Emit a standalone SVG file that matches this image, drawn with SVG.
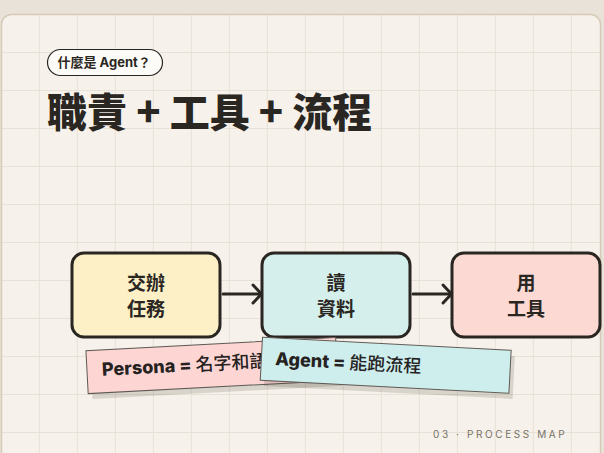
<svg xmlns="http://www.w3.org/2000/svg" width="604" height="453" viewBox="0 0 604 453">
  <defs>
    <pattern id="grid" patternUnits="userSpaceOnUse" x="0.8" y="14" width="38" height="38">
      <path d="M0.5 0 V38 M0 0.5 H38" fill="none" stroke="#e8e1d6" stroke-width="1"/>
    </pattern>
    <clipPath id="cardClip">
      <rect x="1.5" y="14.5" width="599" height="460" rx="10"/>
    </clipPath>
  </defs>
  <style>
    .node rect.box { stroke: #2a2622; stroke-width: 3; }
    .node text { font-family: "Noto Sans CJK TC", "Noto Sans CJK SC", sans-serif; font-weight: 700; font-size: 19px; fill: #2a2622; text-anchor: middle; }
    .conn { fill: none; stroke: #2a2622; stroke-width: 3; stroke-linecap: round; stroke-linejoin: round; }
    .note rect.paper { stroke: #5f5954; stroke-width: 1; }
    .note rect.shadow { fill: #3c3228; fill-opacity: 0.16; }
    .note text { font-family: Inter, "Noto Sans CJK TC", "Noto Sans CJK SC", sans-serif; font-weight: 800; font-size: 18px; fill: #26221f; }
    .note tspan.cjk { font-weight: 500; }
  </style>

  <!-- background -->
  <rect x="0" y="0" width="604" height="453" fill="#e8e2d9"/>
  <g id="card">
    <rect x="1.5" y="14.5" width="599" height="460" rx="10" fill="#f6f2eb"/>
    <rect x="1.5" y="14.5" width="599" height="460" fill="url(#grid)" clip-path="url(#cardClip)"/>
    <rect x="1.5" y="14.5" width="599" height="460" rx="10" fill="none" stroke="#d6cab7" stroke-width="1.5"/>
  </g>

  <!-- tag pill -->
  <g id="tag">
    <rect x="47.5" y="49.5" width="115" height="26" rx="13" fill="#fdfbf7" stroke="#2a2622" stroke-width="1.2"/>
    <text x="57.5" y="67" font-family="Inter, 'Noto Sans CJK TC', sans-serif" font-weight="700" font-size="13" fill="#2a2622">什麼是 Agent？</text>
  </g>

  <!-- title -->
  <g id="title">
    <text x="47" y="127" font-family="'Noto Sans CJK TC', 'Noto Sans CJK SC', sans-serif" font-weight="900" font-size="40" fill="#2a2622">職責 + 工具 + 流程</text>
  </g>

  <!-- connectors -->
  <g id="connectors">
    <line class="conn" x1="223" y1="294" x2="260" y2="294"/>
    <polyline class="conn" points="253,285 261.5,294 253,303"/>
    <line class="conn" x1="413" y1="294" x2="450" y2="294"/>
    <polyline class="conn" points="443,285 451.5,294 443,303"/>
  </g>

  <!-- nodes -->
  <g id="node-assign" class="node">
    <rect class="box" x="72" y="253" width="148" height="84" rx="12" fill="#fdf0c7"/>
    <text x="146" y="290">交辦</text>
    <text x="146" y="316">任務</text>
  </g>
  <g id="node-read" class="node">
    <rect class="box" x="262" y="253" width="148" height="84" rx="12" fill="#d4efec"/>
    <text x="336" y="290">讀</text>
    <text x="336" y="316">資料</text>
  </g>
  <g id="node-use" class="node">
    <rect class="box" x="452" y="253" width="148" height="84" rx="12" fill="#fdd9d4"/>
    <text x="526" y="290">用</text>
    <text x="526" y="316">工具</text>
  </g>

  <!-- sticky notes -->
  <g id="note-persona" class="note" transform="translate(211.9 365.6) rotate(-3)">
    <rect class="shadow" x="-121" y="-16" width="250" height="43"/>
    <rect class="paper" x="-125" y="-21.5" width="250" height="43" fill="#fdd6d4"/>
    <text x="-110" y="4.5">Persona = <tspan class="cjk">名字和語</tspan></text>
  </g>
  <g id="note-agent" class="note" transform="translate(385.7 365.3) rotate(3)">
    <rect class="shadow" x="-120.5" y="-16" width="249" height="43"/>
    <rect class="paper" x="-124.5" y="-21.5" width="249" height="43" fill="#cdeeed"/>
    <text x="-110.5" y="5.5">Agent = <tspan class="cjk">能跑流程</tspan></text>
  </g>

  <!-- footer -->
  <g id="footer">
    <text x="433" y="438" font-family="Inter, 'Liberation Sans', sans-serif" font-size="10" letter-spacing="2.6" fill="#78726a">03 · PROCESS MAP</text>
  </g>
</svg>
